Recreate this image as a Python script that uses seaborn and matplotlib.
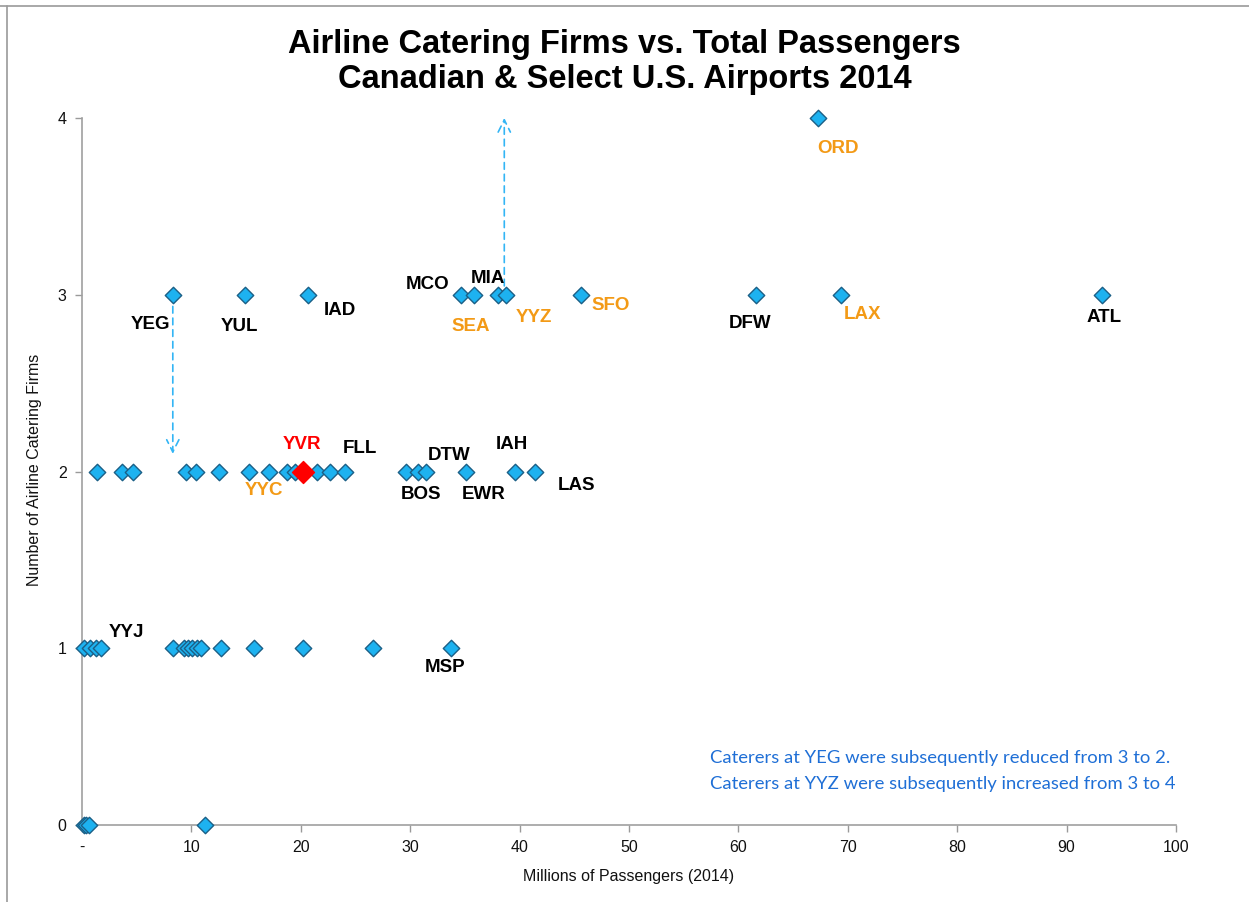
import matplotlib
matplotlib.use("Agg")
import matplotlib.pyplot as plt
from matplotlib.lines import Line2D
import seaborn as sns
import pandas as pd

# ---- data (millions of passengers, number of catering firms) ----
pax_0 = [0.2, 0.4, 0.6, 11.2]
pax_1 = [0.2, 0.7, 1.3, 1.7, 8.3, 9.3, 9.7, 10.1, 10.5, 10.9, 12.7, 15.7, 20.2, 26.6, 33.7]
pax_2 = [1.35, 3.7, 4.7, 9.5, 10.4, 12.5, 15.3, 17.1, 18.7, 19.5, 21.5, 22.7, 24.0,
         29.6, 30.7, 31.4, 35.1, 39.6, 41.4]
pax_3 = [8.3, 14.9, 20.7, 34.6, 35.8, 38.0, 38.8, 45.6, 61.6, 69.4, 93.2]
pax_4 = [67.3]
yvr_pax = [20.2]
yvr_firms = [2]

# airport labels: code, label x, label y, colour group
label_codes = ["YEG", "YUL", "IAD", "MCO", "MIA", "SEA", "YYZ", "SFO", "DFW", "LAX", "ATL", "ORD",
               "YVR", "FLL", "DTW", "IAH", "BOS", "EWR", "LAS", "YYC", "YYJ", "MSP"]
label_x = [6.3, 14.4, 23.6, 31.6, 37.1, 35.5, 41.3, 48.3, 61.1, 71.3, 93.4, 69.1,
           20.1, 25.4, 33.6, 39.3, 31.0, 36.7, 45.2, 16.6, 4.1, 33.2]
label_y = [2.83, 2.82, 2.91, 3.06, 3.09, 2.82, 2.87, 2.94, 2.84, 2.89, 2.87, 3.83,
           2.15, 2.13, 2.09, 2.15, 1.87, 1.87, 1.92, 1.89, 1.09, 0.89]
label_group = ["other", "other", "other", "other", "other", "canada", "canada", "canada", "other",
               "canada", "other", "canada", "yvr", "other", "other", "other", "other", "other",
               "other", "canada", "other", "other"]

x_ticks = [0, 10, 20, 30, 40, 50, 60, 70, 80, 90, 100]
x_tick_labels = ["-", "10", "20", "30", "40", "50", "60", "70", "80", "90", "100"]
y_ticks = [0, 1, 2, 3, 4]

notes = ["Caterers at YEG were subsequently reduced from 3 to 2.",
         "Caterers at YYZ were subsequently increased from 3 to 4"]

# ---- build data frame ----
rows = []
for firms, pax in [(0, pax_0), (1, pax_1), (2, pax_2), (3, pax_3), (4, pax_4)]:
    for p in pax:
        rows.append({"pax": p, "firms": firms})
df = pd.DataFrame(rows)
df_yvr = pd.DataFrame({"pax": yvr_pax, "firms": yvr_firms})

sns.set_theme(style="white")
plt.rcParams["font.family"] = ["Liberation Sans", "DejaVu Sans"]
plt.rcParams["text.color"] = "#000000"

fig = plt.figure(figsize=(12.49, 9.02), dpi=100)
ax = fig.add_axes([82 / 1249, 1 - 825 / 902, (1176 - 82) / 1249, (825 - 118) / 902])

FILL = "#1DB2F0"
EDGE = "#1B5F86"
sns.scatterplot(data=df, x="pax", y="firms", marker="D", s=70, color=FILL,
                edgecolor=EDGE, linewidth=1.0, ax=ax, zorder=3, clip_on=False)
sns.scatterplot(data=df_yvr, x="pax", y="firms", marker="D", s=125, color="#FF0000",
                edgecolor="#FF0000", linewidth=1.0, ax=ax, zorder=4, clip_on=False)

ax.set_xlim(0, 100)
ax.set_ylim(0, 4)
ax.set_xticks(x_ticks)
ax.set_xticklabels(x_tick_labels)
ax.set_yticks(y_ticks)
ax.tick_params(axis="both", which="major", labelsize=11.5, direction="out", length=5,
               width=1, color="#9A9A9A", labelcolor="#111111", bottom=True, left=True, pad=6)
for side in ["top", "right"]:
    ax.spines[side].set_visible(False)
for side in ["left", "bottom"]:
    ax.spines[side].set_color("#A0A0A0")
    ax.spines[side].set_linewidth(1.2)
ax.grid(False)

ax.set_xlabel("Millions of Passengers (2014)", fontsize=11.5, color="#111111", labelpad=10)
ax.set_ylabel("Number of Airline Catering Firms", fontsize=11.5, color="#111111")
ax.yaxis.set_label_coords((42 - 82) / 1094, (825 - 470) / 707)

color_map = {"other": "#000000", "canada": "#F39A16", "yvr": "#FF0000"}
for code, lx, ly, g in zip(label_codes, label_x, label_y, label_group):
    ax.text(lx, ly, code, fontsize=13.5, fontweight="bold", color=color_map[g],
            ha="center", va="center", zorder=5)

# dashed arrows
ARROW = "#33B5F5"
ax.annotate("", xy=(pax_3[0], 2.1), xytext=(pax_3[0], 3.0),
            arrowprops=dict(arrowstyle="->", linestyle=(0, (4, 3)), color=ARROW, lw=1.2,
                            mutation_scale=22, shrinkA=0, shrinkB=0), zorder=2)
ax.annotate("", xy=(pax_3[6] - 0.2, 4.0), xytext=(pax_3[6] - 0.2, 3.05),
            arrowprops=dict(arrowstyle="->", linestyle=(0, (4, 3)), color=ARROW, lw=1.2,
                            mutation_scale=22, shrinkA=0, shrinkB=0), zorder=2)

# notes
for i, t in enumerate(notes):
    fig.text(710 / 1249, 1 - (758 + 26 * i) / 902, t, fontsize=13.3, color="#1F6FD6",
             family=["Lato", "DejaVu Sans"], ha="left", va="center")

fig.suptitle("Airline Catering Firms vs. Total Passengers\nCanadian & Select U.S. Airports 2014",
             fontsize=23.5, fontweight="bold", color="#000000", y=1 - 29 / 902, va="top",
             linespacing=1.15)

# frame lines of the original screenshot
fig.add_artist(Line2D([0, 1], [1 - 6 / 902, 1 - 6 / 902], color="#9A9A9A", lw=1.2,
                      transform=fig.transFigure))
fig.add_artist(Line2D([7 / 1249, 7 / 1249], [0, 1 - 6 / 902], color="#9A9A9A", lw=1.2,
                      transform=fig.transFigure))

fig.savefig("out.png", dpi=100)
